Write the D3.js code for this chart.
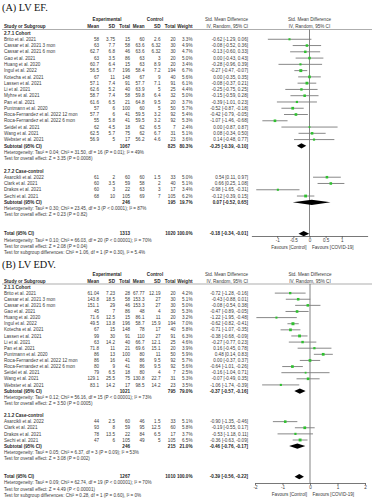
<!DOCTYPE html>
<html lang="en">
<meta charset="utf-8">
<script src="https://d3js.org/d3.v7.min.js"></script>
<style>
  body { margin: 0; background: #fff; }
  svg text { font-family: "Liberation Sans", Arial, sans-serif; fill: #3a3a3a; }
  svg text.b { font-weight: bold; fill: #262626; }
  svg text.ttl { font-family: "Liberation Serif", "Times New Roman", serif; fill: #111; }
</style>
<body>
<svg width="372" height="500"></svg>
<script>
// ---------- (A) LV EF ----------
var efTitle = "(A) LV EF.";
var efGroups = ["2.7.1 Cohort", "2.7.2 Case-control"];
var efCohortCount = 17;
var efStudies = ["Brito et al. 2021", "Cassar et al. 2021 3 mon", "Cassar et al. 2021 6 mon", "Gao et al. 2021",
  "Huang et al. 2020", "Ingul et al. 2022", "Kotecha et al. 2021", "Lassen et al. 2021", "Li et al. 2021",
  "Myhre et al. 2021", "Pan et al. 2021", "Puntmann et al. 2020", "Roca-Fernandez et al. 2022 12 mon",
  "Roca-Fernandez et al. 2022 6 mon", "Seidel et al. 2021", "Wang et al. 2021", "Webster et al. 2021",
  "Asarcikli et al. 2022", "Clark et al. 2021", "Drakos et al. 2021", "Sechi et al. 2021"];
var efExpMean = [58, 63, 62.7, 63, 60.7, 56.5, 67, 57.1, 62.6, 58.7, 61.6, 57, 57.7, 55, 62, 62.5, 56.9, 61, 60, 60, 68];
var efExpSD = [3.75, 7.7, 6.8, 3.5, 6.4, 6.7, 11, 7.4, 5.2, 7.4, 6.5, 6, 6, 5.8, 4.5, 5.7, 5, 2, 3.5, 3, 10];
var efExpN = [15, 58, 46, 86, 15, 196, 148, 91, 40, 58, 21, 100, 41, 41, 18, 75, 17, 60, 59, 22, 105];
var efCtlMean = [60, 63.6, 63.6, 63, 63, 58.4, 67, 57.7, 63.9, 59.8, 64.8, 60, 59.5, 59.5, 62, 62, 56.2, 60, 58, 63, 69];
var efCtlSD = [2.6, 6.32, 6.32, 3, 8.9, 7.2, 9, 7.1, 5, 6.4, 9.5, 5, 3.2, 3.2, 6.5, 6.7, 4.6, 1.5, 2, 3, 7];
var efCtlN = [20, 30, 30, 20, 20, 194, 40, 91, 25, 32, 20, 50, 92, 92, 7, 31, 23, 33, 40, 17, 105];
var efWeight = [3.3, 4.9, 4.7, 5.0, 3.4, 6.7, 5.6, 6.1, 4.4, 5.0, 3.7, 5.7, 5.4, 5.3, 2.4, 5.1, 3.6, 5.0, 5.1, 3.4, 6.2];
var efSmd = [-0.62, -0.08, -0.13, 0.00, -0.28, -0.27, 0.00, -0.08, -0.25, -0.15, -0.39, -0.52, -0.42, -1.07, 0.00, 0.08, 0.14, 0.54, 0.66, -0.98, -0.12];
var efLo = [-1.29, -0.52, -0.60, -0.43, -0.96, -0.47, -0.35, -0.37, -0.75, -0.59, -1.01, -0.87, -0.79, -1.46, -0.87, -0.34, -0.48, 0.11, 0.25, -1.65, -0.39];
var efHi = [0.06, 0.36, 0.33, 0.43, 0.39, -0.07, 0.35, 0.21, 0.25, 0.28, 0.23, -0.18, -0.05, -0.68, 0.87, 0.50, 0.77, 0.97, 1.08, -0.31, 0.15];
// subtotal cohort, subtotal case-control, total
var efPoolExpN = [1067, 246, 1313];
var efPoolCtlN = [825, 195, 1020];
var efPoolWeight = [80.3, 19.7, 100.0];
var efPoolSmd = [-0.25, 0.07, -0.18];
var efPoolLo = [-0.39, -0.52, -0.34];
var efPoolHi = [-0.10, 0.65, -0.01];
var efHet = ["Heterogeneity: Tau² = 0.04; Chi² = 31.50, df = 16 (P = 0.01); I² = 49%",
  "Heterogeneity: Tau² = 0.30; Chi² = 23.45, df = 3 (P < 0.0001); I² = 87%",
  "Heterogeneity: Tau² = 0.10; Chi² = 66.03, df = 20 (P < 0.00001); I² = 70%"];
var efTest = ["Test for overall effect: Z = 3.35 (P = 0.0008)",
  "Test for overall effect: Z = 0.23 (P = 0.82)",
  "Test for overall effect: Z = 2.08 (P = 0.04)"];
var efSubgroupTest = "Test for subgroup differences: Chi² = 1.06, df = 1 (P = 0.30), I² = 5.4%";
var efTicks = [-1, -0.5, 0, 0.5, 1];

// ---------- (B) LV EDV ----------
var edvTitle = "(B) LV EDV.";
var edvGroups = ["2.1.1 Cohort", "2.1.2 Case-control"];
var edvCohortCount = 16;
var edvStudies = ["Brito et al. 2021", "Cassar et al. 2021 3 mon", "Cassar et al. 2021 6 mon", "Gao et al. 2021",
  "Huang et al. 2020", "Ingul et al. 2022", "Kotecha et al. 2021", "Lassen et al. 2021", "Li et al. 2021",
  "Pan et al. 2021", "Puntmann et al. 2020", "Roca-Fernandez et al. 2022 12 mon",
  "Roca-Fernandez et al. 2022 6 mon", "Seidel et al. 2021", "Wang et al. 2021", "Webster et al. 2021",
  "Asarcikli et al. 2022", "Clark et al. 2021", "Drakos et al. 2021", "Sechi et al. 2021"];
var edvExpMean = [61.04, 143.8, 151.1, 45, 71.6, 49.5, 67, 99, 63, 71.8, 86, 86, 80, 79, 129.1, 83.1, 44, 93, 78, 47];
var edvExpSD = [7.23, 18.5, 29, 7, 12.5, 13.8, 15, 30, 14.2, 11, 13, 16, 9, 6.5, 25.5, 14.2, 2.5, 8, 13.5, 6];
var edvExpN = [28, 58, 46, 86, 15, 196, 148, 91, 40, 21, 100, 41, 41, 18, 75, 17, 60, 59, 22, 105];
var edvCtlMean = [67.77, 153.3, 153.3, 48, 86.1, 58.7, 78, 110, 66.7, 69.6, 80, 86, 86, 80, 130.8, 98.5, 46, 95, 84, 49];
var edvCtlSD = [12.19, 27, 27, 4, 11, 15.9, 17, 27, 12.1, 15.1, 11, 9.5, 9.5, 4, 22.7, 14.2, 1.5, 12.5, 6.5, 5];
var edvCtlN = [20, 30, 30, 30, 20, 194, 40, 91, 25, 20, 50, 92, 92, 7, 31, 23, 33, 60, 17, 105];
var edvWeight = [4.2, 5.1, 5.0, 5.3, 3.2, 7.0, 5.8, 6.3, 4.6, 3.9, 5.9, 5.7, 5.6, 2.5, 5.3, 3.5, 5.1, 5.8, 3.7, 6.5];
var edvSmd = [-0.72, -0.43, -0.08, -0.47, -1.22, -0.62, -0.71, -0.38, -0.27, 0.16, 0.48, 0.00, -0.64, -0.16, -0.07, -1.06, -0.90, -0.19, -0.53, -0.36];
var edvLo = [-1.28, -0.88, -0.54, -0.89, -1.95, -0.82, -1.07, -0.68, -0.77, -0.45, 0.14, -0.37, -1.01, -1.04, -0.49, -1.74, -1.35, -0.55, -1.18, -0.63];
var edvHi = [-0.16, 0.01, 0.38, -0.05, -0.48, -0.41, -0.35, -0.09, 0.23, 0.78, 0.83, 0.37, -0.26, 0.71, 0.35, -0.39, -0.46, 0.17, 0.11, -0.09];
var edvPoolExpN = [1021, 246, 1267];
var edvPoolCtlN = [795, 215, 1010];
var edvPoolWeight = [79.0, 21.0, 100.0];
var edvPoolSmd = [-0.37, -0.46, -0.39];
var edvPoolLo = [-0.57, -0.76, -0.56];
var edvPoolHi = [-0.16, -0.17, -0.22];
var edvHet = ["Heterogeneity: Tau² = 0.12; Chi² = 56.16, df = 15 (P < 0.00001); I² = 73%",
  "Heterogeneity: Tau² = 0.05; Chi² = 6.37, df = 3 (P = 0.09); I² = 53%",
  "Heterogeneity: Tau² = 0.09; Chi² = 62.74, df = 19 (P < 0.00001); I² = 70%"];
var edvTest = ["Test for overall effect: Z = 3.50 (P = 0.0005)",
  "Test for overall effect: Z = 3.08 (P = 0.002)",
  "Test for overall effect: Z = 4.49 (P < 0.00001)"];
var edvSubgroupTest = "Test for subgroup differences: Chi² = 0.28, df = 1 (P = 0.60), I² = 0%";
var edvTicks = [-2, -1, 0, 1, 2];

var FS = 4.6;
var svg = d3.select("svg");

// column right edges
var col = { name: 4, expMean: 99, expSD: 115, expN: 130, ctlMean: 144.5, ctlSD: 160.5, ctlN: 175.5, weight: 192.5, ci: 248 };

function txt(g, x, y, s, anchor, cls) {
  return g.append("text")
    .attr("x", x).attr("y", y + FS * 0.36)
    .attr("font-size", FS)
    .attr("text-anchor", anchor || "start")
    .attr("class", cls || null)
    .text(s);
}

function ciText(m, l, h) {
  return m.toFixed(2) + " [" + l.toFixed(2) + ", " + h.toFixed(2) + "]";
}

function drawPanel(p) {
  var g = svg.append("g");
  var x = d3.scaleLinear().domain(p.domain).range(p.range);
  var y = function(r) { return p.top + r * p.step; };
  var size = d3.scaleSqrt().domain([0, 7]).range([0, 3]);

  g.append("text").attr("class", "ttl").attr("x", 2).attr("y", p.titleY)
    .attr("font-size", 10.3).text(p.title);

  // headers
  txt(g, 107, p.head1, "Experimental", "middle", "b");
  txt(g, 155, p.head1, "Control", "middle", "b");
  txt(g, col.ci, p.head1, "Std. Mean Difference", "end");
  txt(g, x(0), p.head1, "Std. Mean Difference", "middle");
  txt(g, col.name, p.head2, "Study or Subgroup", "start", "b");
  [["Mean", col.expMean], ["SD", col.expSD], ["Total", col.expN], ["Mean", col.ctlMean],
   ["SD", col.ctlSD], ["Total", col.ctlN], ["Weight", col.weight]].forEach(function(h) {
    txt(g, h[1], p.head2, h[0], "end", "b");
  });
  txt(g, col.ci, p.head2, "IV, Random, 95% CI", "end");
  txt(g, x(0), p.head2, "IV, Random, 95% CI", "middle");
  g.append("line").attr("x1", 2).attr("x2", 372).attr("y1", p.lineY).attr("y2", p.lineY)
    .attr("stroke", "#777").attr("stroke-width", 0.6);

  // zero line
  g.append("line").attr("x1", x(0)).attr("x2", x(0)).attr("y1", p.lineY).attr("y2", p.axisY)
    .attr("stroke", "#666").attr("stroke-width", 0.8);

  var n1 = p.cohortCount, n2 = p.studies.length - n1;
  var rows = [];   // study index -> row
  p.studies.forEach(function(s, i) {
    rows.push(i < n1 ? i + 1 : n1 + 6 + (i - n1));
  });
  var poolRows = [n1 + 1, n1 + 6 + n2, n1 + 6 + n2 + 5];
  var groupRows = [0, n1 + 5];

  groupRows.forEach(function(r, k) { txt(g, col.name, y(r), p.groups[k], "start", "b"); });

  // study rows
  p.studies.forEach(function(s, i) {
    var yy = y(rows[i]);
    txt(g, col.name, yy, s);
    txt(g, col.expMean, yy, p.expMean[i], "end");
    txt(g, col.expSD, yy, p.expSD[i], "end");
    txt(g, col.expN, yy, p.expN[i], "end");
    txt(g, col.ctlMean, yy, p.ctlMean[i], "end");
    txt(g, col.ctlSD, yy, p.ctlSD[i], "end");
    txt(g, col.ctlN, yy, p.ctlN[i], "end");
    txt(g, col.weight, yy, p.weight[i].toFixed(1) + "%", "end");
    txt(g, col.ci, yy, ciText(p.smd[i], p.lo[i], p.hi[i]), "end");
  });

  g.selectAll("line.ci").data(p.studies).enter().append("line").attr("class", "ci")
    .attr("x1", function(d, i) { return x(p.lo[i]); })
    .attr("x2", function(d, i) { return x(p.hi[i]); })
    .attr("y1", function(d, i) { return y(rows[i]); })
    .attr("y2", function(d, i) { return y(rows[i]); })
    .attr("stroke", "#7a7a7a").attr("stroke-width", 0.9);

  g.selectAll("rect.sq").data(p.studies).enter().append("rect").attr("class", "sq")
    .attr("x", function(d, i) { return x(p.smd[i]) - size(p.weight[i]) / 2; })
    .attr("y", function(d, i) { return y(rows[i]) - size(p.weight[i]) / 2; })
    .attr("width", function(d, i) { return size(p.weight[i]); })
    .attr("height", function(d, i) { return size(p.weight[i]); })
    .attr("fill", "#2fc02f");

  // pooled rows
  poolRows.forEach(function(r, k) {
    var yy = y(r);
    txt(g, col.name, yy, k < 2 ? "Subtotal (95% CI)" : "Total (95% CI)", "start", "b");
    txt(g, col.expN, yy, p.poolExpN[k], "end", "b");
    txt(g, col.ctlN, yy, p.poolCtlN[k], "end", "b");
    txt(g, col.weight, yy, p.poolWeight[k].toFixed(1) + "%", "end", "b");
    txt(g, col.ci, yy, ciText(p.poolSmd[k], p.poolLo[k], p.poolHi[k]), "end", "b");
    txt(g, col.name, y(r + 1), p.het[k]);
    txt(g, col.name, y(r + 2), p.test[k]);
    var h = 2.6;
    g.append("path")
      .attr("d", "M" + x(p.poolLo[k]) + "," + yy + "L" + x(p.poolSmd[k]) + "," + (yy - h) +
        "L" + x(p.poolHi[k]) + "," + yy + "L" + x(p.poolSmd[k]) + "," + (yy + h) + "Z")
      .attr("fill", "#000");
  });
  txt(g, col.name, y(poolRows[2] + 3), p.subgroupTest);

  // axis
  var ax = g.append("g").attr("transform", "translate(0," + p.axisY + ")")
    .call(d3.axisBottom(x).tickValues(p.ticks).tickSize(2).tickSizeOuter(0).tickPadding(1.2)
      .tickFormat(function(d) { return d; }));
  ax.attr("font-size", FS);
  ax.select(".domain").attr("stroke", "#555").attr("stroke-width", 0.8);
  ax.selectAll(".tick line").attr("stroke", "#555").attr("stroke-width", 0.8);
  ax.selectAll(".tick text").attr("fill", "#333");
  txt(g, x(0) - 3, p.axisY + 11, "Favours [Control]", "end");
  txt(g, x(0) + 2.5, p.axisY + 11, "Favours [COVID-19]", "start");
}

drawPanel({
  title: efTitle, groups: efGroups, cohortCount: efCohortCount, studies: efStudies,
  expMean: efExpMean, expSD: efExpSD, expN: efExpN, ctlMean: efCtlMean, ctlSD: efCtlSD, ctlN: efCtlN,
  weight: efWeight, smd: efSmd, lo: efLo, hi: efHi,
  poolExpN: efPoolExpN, poolCtlN: efPoolCtlN, poolWeight: efPoolWeight, poolSmd: efPoolSmd, poolLo: efPoolLo, poolHi: efPoolHi,
  het: efHet, test: efTest, subgroupTest: efSubgroupTest, ticks: efTicks,
  domain: [-1.8, 1.8], range: [251.4, 367.6],
  titleY: 10.5, head1: 19.5, head2: 26, lineY: 29.5, top: 33, step: 6.27, axisY: 236
});

drawPanel({
  title: edvTitle, groups: edvGroups, cohortCount: edvCohortCount, studies: edvStudies,
  expMean: edvExpMean, expSD: edvExpSD, expN: edvExpN, ctlMean: edvCtlMean, ctlSD: edvCtlSD, ctlN: edvCtlN,
  weight: edvWeight, smd: edvSmd, lo: edvLo, hi: edvHi,
  poolExpN: edvPoolExpN, poolCtlN: edvPoolCtlN, poolWeight: edvPoolWeight, poolSmd: edvPoolSmd, poolLo: edvPoolLo, poolHi: edvPoolHi,
  het: edvHet, test: edvTest, subgroupTest: edvSubgroupTest, ticks: edvTicks,
  domain: [-2, 2], range: [255, 365],
  titleY: 268, head1: 274.5, head2: 281, lineY: 284, top: 287, step: 6.12, axisY: 483
});
</script>
</body>
</html>
